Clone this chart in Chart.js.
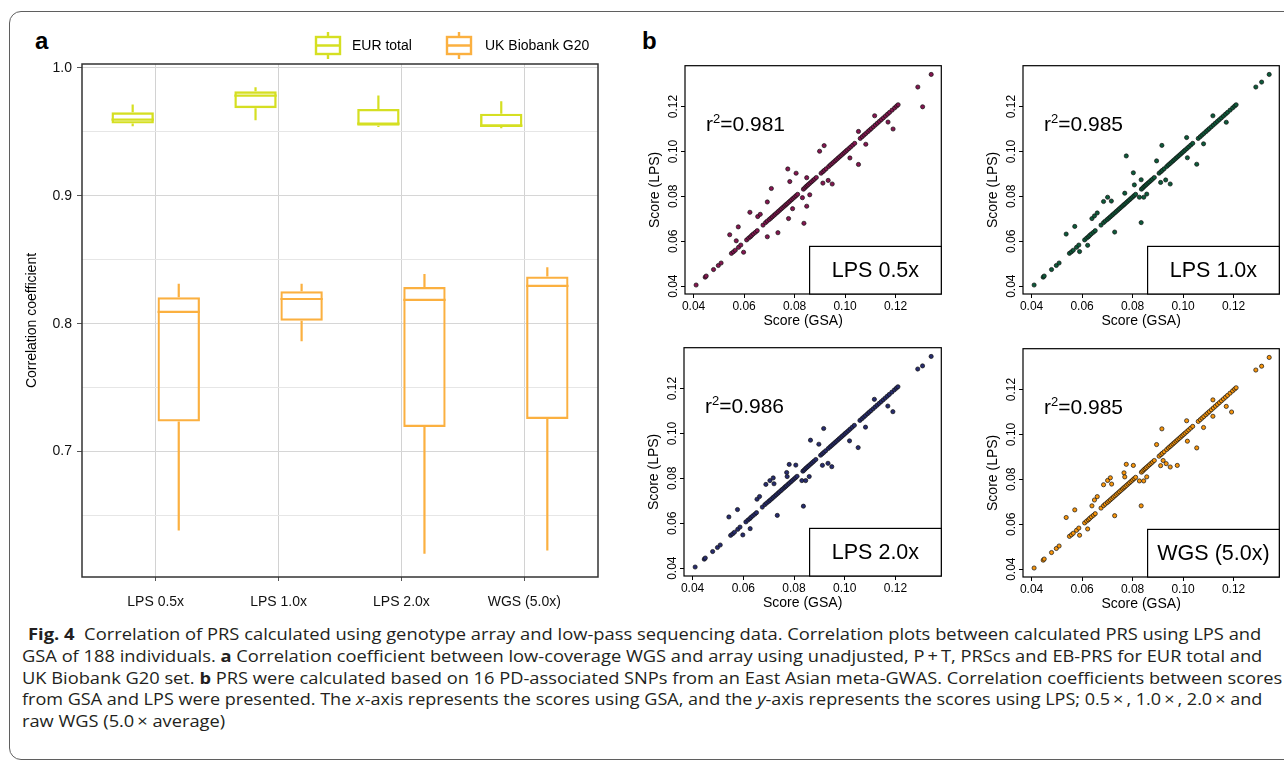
<!DOCTYPE html>
<html>
<head>
<meta charset="utf-8">
<script src="https://cdn.jsdelivr.net/npm/chart.js@4.4.0/dist/chart.umd.min.js"></script>
<style>
  body { margin:0; width:1284px; height:761px; overflow:hidden; background:#fff; position:relative; }
  .frame { position:absolute; left:9px; top:11px; width:1300px; height:747px; border:1.3px solid #5f5f5f; border-radius:12px; }
  canvas { position:absolute; }
  .tag { position:absolute; top:29px; font:bold 24px "Liberation Sans", Arial, sans-serif; line-height:24px; color:#000; }
  #caption { position:absolute; left:21.7px; top:624px; font-family:"Open Sans", sans-serif; font-size:15.5px; line-height:21.8px; color:#231f20; }
  #caption .ln { display:inline-block; white-space:nowrap; transform-origin:0 50%; }
</style>
</head>
<body>
<div class="frame"></div>
<div class="tag" style="left:35px">a</div>
<div class="tag" style="left:642px">b</div>
<canvas id="boxChart" width="630" height="620" style="left:0;top:0"></canvas>
<canvas id="sc0"></canvas>
<canvas id="sc1"></canvas>
<canvas id="sc2"></canvas>
<canvas id="sc3"></canvas>
<div id="caption">
  <span class="ln" style="margin-left:6px"><b>Fig. 4</b>&nbsp; Correlation of PRS calculated using genotype array and low-pass sequencing data. Correlation plots between calculated PRS using LPS and</span><br>
  <span class="ln">GSA of 188 individuals. <b>a</b> Correlation coefficient between low-coverage WGS and array using unadjusted, P&thinsp;+&thinsp;T, PRScs and EB-PRS for EUR total and</span><br>
  <span class="ln">UK Biobank G20 set. <b>b</b> PRS were calculated based on 16 PD-associated SNPs from an East Asian meta-GWAS. Correlation coefficients between scores</span><br>
  <span class="ln">from GSA and LPS were presented. The <i>x</i>-axis represents the scores using GSA, and the <i>y</i>-axis represents the scores using LPS; 0.5&thinsp;×&thinsp;, 1.0&thinsp;×&thinsp;, 2.0&thinsp;× and</span><br>
  <span class="ln">raw WGS (5.0&thinsp;× average)</span>
</div>
<script>
// ---- panel a : box plot values ----
const categories = ['LPS 0.5x', 'LPS 1.0x', 'LPS 2.0x', 'WGS (5.0x)'];
const eurMin = [0.9543, 0.9590, 0.9538, 0.9527];
const eurQ1  = [0.9564, 0.9684, 0.9548, 0.9538];
const eurMed = [0.9595, 0.9783, 0.9564, 0.9548];
const eurQ3  = [0.9652, 0.9817, 0.9679, 0.9642];
const eurMax = [0.9713, 0.9848, 0.9783, 0.9738];
const ukMin = [0.6384, 0.7862, 0.6202, 0.6228];
const ukQ1  = [0.7236, 0.8024, 0.7193, 0.7256];
const ukMed = [0.8092, 0.8193, 0.8186, 0.8295];
const ukQ3  = [0.8207, 0.8254, 0.8287, 0.8368];
const ukMax = [0.8313, 0.8313, 0.8389, 0.8442];
const boxTicks = [0.65, 0.70, 0.75, 0.80, 0.85, 0.90, 0.95, 1.00];

// ---- panel b : scatter values [GSA, LPS] ----
const scoreTicks = [0.04, 0.06, 0.08, 0.10, 0.12];
const panelNames = ['LPS 0.5x', 'LPS 1.0x', 'LPS 2.0x', 'WGS (5.0x)'];
const r2Values = ['0.981', '0.985', '0.986', '0.985'];
const pointColors = ['#841650', '#0d5a3a', '#272c6e', '#f7950c'];

// individuals whose LPS score sits on the GSA score (same in all four panels)
const onLine = [
  [0.0410,0.0405],[0.0446,0.0440],[0.0450,0.0445],[0.0479,0.0474],[0.0498,0.0492],[0.0509,0.0503],
  [0.0550,0.0546],[0.0558,0.0553],[0.0565,0.0560],[0.0578,0.0573],[0.0587,0.0583],
  [0.0610,0.0606],[0.0618,0.0614],[0.0625,0.0620],[0.0630,0.0626],[0.0637,0.0633],[0.0645,0.0640],[0.0652,0.0647],
  [0.0675,0.0672],[0.0685,0.0683],[0.0692,0.0690],[0.0700,0.0697],[0.0706,0.0703],[0.0712,0.0709],[0.0718,0.0715],
  [0.0724,0.0721],[0.0730,0.0727],[0.0736,0.0733],[0.0742,0.0739],[0.0748,0.0745],[0.0754,0.0751],[0.0760,0.0757],
  [0.0765,0.0762],[0.0770,0.0767],[0.0776,0.0773],[0.0782,0.0779],[0.0788,0.0785],[0.0794,0.0791],[0.0800,0.0797],
  [0.0806,0.0803],[0.0812,0.0809],
  [0.0835,0.0832],[0.0840,0.0837],[0.0845,0.0843],[0.0850,0.0848],[0.0855,0.0853],[0.0861,0.0859],[0.0867,0.0865],
  [0.0873,0.0871],[0.0879,0.0877],[0.0886,0.0884],
  [0.0905,0.0903],[0.0912,0.0910],[0.0918,0.0916],[0.0925,0.0923],[0.0935,0.0933],[0.0942,0.0940],[0.0948,0.0946],
  [0.0954,0.0952],[0.0960,0.0958],[0.0966,0.0964],[0.0972,0.0970],[0.0978,0.0976],[0.0984,0.0982],[0.0990,0.0988],
  [0.0996,0.0994],[0.1002,0.1000],[0.1008,0.1006],[0.1015,0.1013],[0.1022,0.1020],[0.1030,0.1028],[0.1038,0.1036],
  [0.1060,0.1058],[0.1068,0.1066],[0.1075,0.1073],[0.1082,0.1080],[0.1090,0.1088],[0.1097,0.1095],[0.1104,0.1102],
  [0.1112,0.1110],[0.1120,0.1118],[0.1128,0.1126],[0.1136,0.1134],[0.1144,0.1142],[0.1152,0.1150],[0.1160,0.1158],
  [0.1168,0.1166],[0.1176,0.1174],[0.1186,0.1184],[0.1196,0.1194],[0.1204,0.1202],[0.1210,0.1208],
  [0.1288,0.1287],[0.1341,0.1343]
];
const off05 = [
  [0.0543,0.0629],[0.0569,0.0602],[0.0577,0.0664],[0.0598,0.0551],[0.0623,0.0729],[0.0654,0.0710],[0.0664,0.0720],
  [0.0692,0.0775],[0.0692,0.0620],[0.0708,0.0835],[0.0734,0.0638],[0.0773,0.0922],[0.0776,0.0701],[0.0781,0.0866],
  [0.0792,0.0745],[0.0806,0.0903],[0.0831,0.0794],[0.0837,0.0680],[0.0848,0.0883],[0.0848,0.0756],[0.0860,0.0807],
  [0.0899,0.1001],[0.0917,0.1026],[0.0912,0.0859],[0.0933,0.0871],[0.0949,0.0855],[0.1019,0.0971],[0.1053,0.0942],
  [0.1053,0.1089],[0.1082,0.1032],[0.1117,0.1159],[0.1170,0.1131],[0.1190,0.1100],[0.1307,0.1199]
];
const off10 = [
  [0.0537,0.0632],[0.0571,0.0666],[0.0590,0.0554],[0.0622,0.0582],[0.0639,0.0701],[0.0649,0.0713],[0.0660,0.0726],
  [0.0685,0.0777],[0.0701,0.0796],[0.0716,0.0779],[0.0729,0.0641],[0.0769,0.0814],[0.0775,0.0980],[0.0803,0.0905],
  [0.0807,0.0851],[0.0827,0.0796],[0.0834,0.0874],[0.0834,0.0683],[0.0844,0.0796],[0.0856,0.0810],[0.0895,0.0958],
  [0.0916,0.1027],[0.0911,0.0862],[0.0931,0.0873],[0.0949,0.0855],[0.1014,0.1062],[0.1017,0.0972],[0.1054,0.0943],
  [0.1081,0.1034],[0.1118,0.1159],[0.1171,0.1130],[0.1311,0.1309]
];
const off20 = [
  [0.0543,0.0628],[0.0577,0.0661],[0.0598,0.0548],[0.0627,0.0576],[0.0654,0.0707],[0.0664,0.0719],[0.0689,0.0773],
  [0.0705,0.0790],[0.0718,0.0802],[0.0721,0.0776],[0.0734,0.0635],[0.0771,0.0826],[0.0773,0.0808],[0.0781,0.0862],
  [0.0807,0.0859],[0.0831,0.0790],[0.0837,0.0676],[0.0846,0.0790],[0.0860,0.0808],[0.0865,0.0970],[0.0898,0.0952],
  [0.0917,0.1022],[0.0912,0.0858],[0.0934,0.0867],[0.0949,0.0852],[0.1019,0.0967],[0.1053,0.0937],[0.1082,0.1028],
  [0.1117,0.1152],[0.1170,0.1122],[0.1190,0.1097],[0.1307,0.1301]
];
const off50 = [
  [0.0537,0.0630],[0.0571,0.0664],[0.0590,0.0551],[0.0622,0.0579],[0.0639,0.0682],[0.0649,0.0708],[0.0660,0.0723],
  [0.0685,0.0776],[0.0701,0.0795],[0.0712,0.0807],[0.0717,0.0779],[0.0729,0.0638],[0.0766,0.0829],[0.0769,0.0811],
  [0.0775,0.0867],[0.0803,0.0862],[0.0827,0.0793],[0.0834,0.0682],[0.0844,0.0793],[0.0856,0.0811],[0.0895,0.0955],
  [0.0916,0.1025],[0.0911,0.0861],[0.0921,0.0884],[0.0933,0.0870],[0.0949,0.0855],[0.0977,0.0862],[0.1014,0.1061],
  [0.1017,0.0970],[0.1054,0.0940],[0.1081,0.1031],[0.1118,0.1154],[0.1118,0.1081],[0.1171,0.1125],[0.1192,0.1100],
  [0.1311,0.1304]
];
const offLine = [off05, off10, off20, off50];

Chart.defaults.font.family = '"Liberation Sans", Arial, sans-serif';
const eurColor = '#d5df22';
const ukColor = '#fbb040';

// whiskers, medians, frame and key for the box plot
const boxExtras = {
  id: 'boxExtras',
  afterDatasetsDraw(chart) {
    const ctx = chart.ctx, y = chart.scales.y;
    ctx.save();
    chart.data.datasets.forEach(function (ds, d) {
      const meta = chart.getDatasetMeta(d);
      ctx.strokeStyle = ds.borderColor;
      ctx.lineWidth = 2.2;
      meta.data.forEach(function (bar, i) {
        const half = bar.width / 2;
        const top = Math.min(bar.y, bar.base), bottom = Math.max(bar.y, bar.base);
        ctx.beginPath();
        ctx.moveTo(bar.x - half, y.getPixelForValue(ds.med[i]));
        ctx.lineTo(bar.x + half, y.getPixelForValue(ds.med[i]));
        ctx.moveTo(bar.x, top);
        ctx.lineTo(bar.x, y.getPixelForValue(ds.max[i]));
        ctx.moveTo(bar.x, bottom);
        ctx.lineTo(bar.x, y.getPixelForValue(ds.min[i]));
        ctx.stroke();
      });
    });
    ctx.restore();
  },
  afterDraw(chart) {
    const ctx = chart.ctx, a = chart.chartArea;
    ctx.save();
    ctx.strokeStyle = '#333';
    ctx.lineWidth = 1.5;
    ctx.strokeRect(a.left, a.top, a.right - a.left, a.bottom - a.top);
    // legend keys
    chart.data.datasets.forEach(function (ds, d) {
      const x = d == 0 ? 316 : 447;
      ctx.strokeStyle = ds.borderColor;
      ctx.lineWidth = 2.4;
      ctx.strokeRect(x, 37, 24, 17);
      ctx.beginPath();
      ctx.moveTo(x, 45.5); ctx.lineTo(x + 24, 45.5);
      ctx.moveTo(x + 12, 32); ctx.lineTo(x + 12, 37);
      ctx.moveTo(x + 12, 54); ctx.lineTo(x + 12, 59);
      ctx.stroke();
      ctx.fillStyle = '#000';
      ctx.font = '14px "Liberation Sans", Arial';
      ctx.textBaseline = 'middle';
      ctx.fillText(ds.label, d == 0 ? 352 : 485, 46);
    });
    ctx.restore();
  }
};

new Chart(document.getElementById('boxChart'), {
  type: 'bar',
  data: {
    datasets: [
      { label: 'EUR total', data: categories.map((c, i) => ({ x: i + 1, y: [eurQ1[i], eurQ3[i]] })),
        min: eurMin, med: eurMed, max: eurMax,
        backgroundColor: 'rgba(0,0,0,0)', borderColor: eurColor, borderWidth: 2.4, borderSkipped: false,
        categoryPercentage: 0.75, barPercentage: 0.92 },
      { label: 'UK Biobank G20', data: categories.map((c, i) => ({ x: i + 1, y: [ukQ1[i], ukQ3[i]] })),
        min: ukMin, med: ukMed, max: ukMax,
        backgroundColor: 'rgba(0,0,0,0)', borderColor: ukColor, borderWidth: 2.2, borderSkipped: false,
        categoryPercentage: 0.75, barPercentage: 0.92 }
    ]
  },
  options: {
    responsive: false, animation: false,
    layout: { padding: { top: 64, right: 32 } },
    plugins: { legend: { display: false }, tooltip: { enabled: false } },
    scales: {
      x: {
        type: 'linear', min: 0.4, max: 4.6, offset: false,
        afterBuildTicks: s => { s.ticks = categories.map((c, i) => ({ value: i + 1 })); },
        afterFit: s => { s.height = 43; },
        ticks: { callback: v => categories[v - 1], font: { size: 14 }, color: '#111', padding: 13, maxRotation: 0, autoSkip: false },
        grid: { offset: false, color: '#d2d2d2', lineWidth: 1, tickLength: 4, tickColor: '#555' },
        border: { display: false }
      },
      y: {
        min: 0.602, max: 1.003,
        afterBuildTicks: s => { s.ticks = boxTicks.map(v => ({ value: v })); },
        afterFit: s => { s.width = 82; },
        ticks: {
          callback: v => (Math.round(v * 100) % 10 == 0 ? v.toFixed(1) : ''),
          font: { size: 14 }, color: '#111', padding: 5
        },
        grid: {
          color: c => (Math.round(c.tick.value * 100) % 10 == 0 ? '#d6d6d6' : '#e6e6e6'),
          tickColor: c => (Math.round(c.tick.value * 100) % 10 == 0 ? '#555' : 'rgba(0,0,0,0)'),
          lineWidth: 1, tickLength: 5
        },
        border: { display: false },
        title: { display: true, text: 'Correlation coefficient', font: { size: 14 }, color: '#000', padding: { top: 24 } }
      }
    }
  },
  plugins: [boxExtras]
});

// frame, rotated y labels, titles, r2 and key for the scatter panels
const scatterExtras = {
  id: 'scatterExtras',
  afterDraw(chart) {
    const ctx = chart.ctx, a = chart.chartArea, y = chart.scales.y;
    const o = chart.options.plugins.scatterExtras;
    ctx.save();
    ctx.strokeStyle = '#000';
    ctx.lineWidth = 1.2;
    ctx.strokeRect(a.left, a.top, a.right - a.left, a.bottom - a.top);
    ctx.fillStyle = '#000';
    ctx.textAlign = 'center';
    ctx.textBaseline = 'middle';
    ctx.font = '12px "Liberation Sans", Arial';
    y.ticks.forEach(function (t) {
      ctx.save();
      ctx.translate(a.left - 11.5, y.getPixelForValue(t.value));
      ctx.rotate(-Math.PI / 2);
      ctx.fillText(t.value.toFixed(2), 0, 0);
      ctx.restore();
    });
    ctx.font = '14px "Liberation Sans", Arial';
    ctx.save();
    ctx.translate(a.left - 30, (a.top + a.bottom) / 2 + 10);
    ctx.rotate(-Math.PI / 2);
    ctx.fillText('Score (LPS)', 0, 0);
    ctx.restore();
    ctx.fillText('Score (GSA)', (a.left + a.right) / 2 - 10, a.bottom + 27);
    // r2 label
    ctx.textAlign = 'left';
    ctx.textBaseline = 'alphabetic';
    let tx = a.left + 21;
    const ty = a.top + 65;
    ctx.font = '21px "Liberation Sans", Arial';
    ctx.fillText('r', tx, ty);
    tx += ctx.measureText('r').width;
    ctx.font = '13px "Liberation Sans", Arial';
    ctx.fillText('2', tx, ty - 8);
    tx += ctx.measureText('2').width;
    ctx.font = '21px "Liberation Sans", Arial';
    ctx.fillText('=' + o.r2, tx, ty);
    // key box
    const bw = 131.7, bh = 47.6;
    ctx.fillStyle = '#fff';
    ctx.fillRect(a.right - bw, a.bottom - bh, bw, bh);
    ctx.strokeRect(a.right - bw, a.bottom - bh, bw, bh);
    ctx.fillStyle = '#000';
    ctx.textAlign = 'center';
    ctx.textBaseline = 'middle';
    ctx.font = '21.5px "Liberation Sans", Arial';
    ctx.fillText(o.name, a.right - bw / 2, a.bottom - bh / 2 + 1);
    ctx.restore();
  }
};

const panelBoxes = [
  { L: 685, T: 64, W: 257, H: 230 },
  { L: 1023, T: 64, W: 257, H: 230 },
  { L: 684, T: 346, W: 258, H: 230 },
  { L: 1023, T: 347, W: 257, H: 230 }
];

panelNames.forEach(function (name, p) {
  const b = panelBoxes[p];
  const cv = document.getElementById('sc' + p);
  cv.width = b.W + 52;
  cv.height = b.H + 43;
  cv.style.left = (b.L - 48) + 'px';
  cv.style.top = (b.T - 3) + 'px';
  const pts = onLine.concat(offLine[p]).map(q => ({ x: q[0], y: q[1] }));
  new Chart(cv, {
    type: 'scatter',
    data: { datasets: [{ data: pts, backgroundColor: pointColors[p], borderColor: '#111', borderWidth: 0.7, pointRadius: 2.1 }] },
    options: {
      responsive: false, animation: false,
      layout: { padding: { top: 3, right: 4 } },
      plugins: { legend: { display: false }, tooltip: { enabled: false }, scatterExtras: { name: name, r2: r2Values[p] } },
      scales: {
        x: {
          min: 0.0366, max: 0.1381,
          afterBuildTicks: s => { s.ticks = scoreTicks.map(v => ({ value: v })); },
          afterFit: s => { s.height = 40; },
          ticks: { callback: v => v.toFixed(2), font: { size: 12 }, color: '#000', padding: 1, maxRotation: 0, autoSkip: false },
          grid: { drawOnChartArea: false, tickLength: 4, tickColor: '#000' },
          border: { display: false }
        },
        y: {
          min: 0.0365, max: 0.1382,
          afterBuildTicks: s => { s.ticks = scoreTicks.map(v => ({ value: v })); },
          afterFit: s => { s.width = 48; },
          ticks: { display: false },
          grid: { drawOnChartArea: false, tickLength: 4, tickColor: '#000' },
          border: { display: false }
        }
      }
    },
    plugins: [scatterExtras]
  });
});

// squeeze / stretch each caption line to the measured right edges
const capRight = [1261, 1262, 1282, 1262];
function fitCaption() {
  const lines = document.querySelectorAll('#caption .ln');
  let sum = 0;
  lines.forEach(function (el, i) {
    if (i >= capRight.length) return;
    const r = el.getBoundingClientRect();
    const k = (capRight[i] - r.left) / r.width;
    sum += k;
    el.style.transform = 'scaleX(' + k + ')';
  });
  lines[lines.length - 1].style.transform = 'scaleX(' + (sum / capRight.length) + ')';
}
if (document.fonts && document.fonts.ready) document.fonts.ready.then(fitCaption); else fitCaption();
</script>
</body>
</html>
